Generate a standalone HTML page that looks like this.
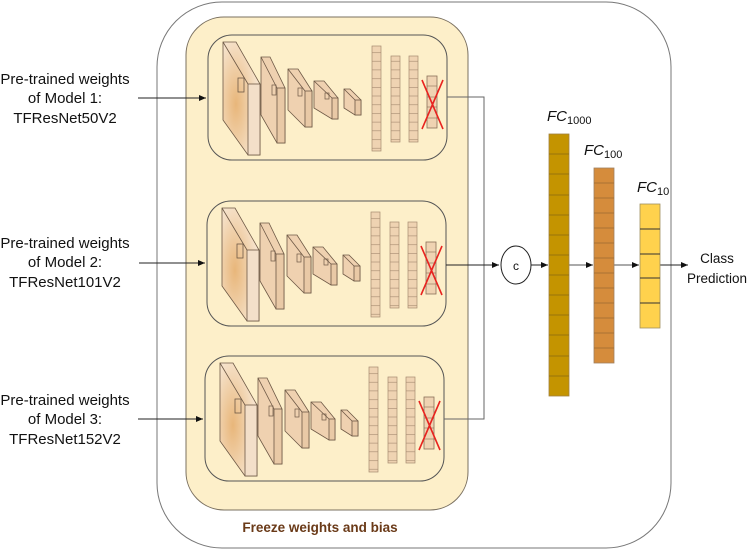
<!DOCTYPE html>
<html><head><meta charset="utf-8"><style>
html,body{margin:0;padding:0;background:#fff;}
svg{display:block;}
text{font-family:"Liberation Sans",sans-serif;}
</style></head><body>
<svg width="749" height="551" viewBox="0 0 749 551" xmlns="http://www.w3.org/2000/svg">
<defs>
<radialGradient id="g1" cx="0.35" cy="0.55" r="0.6">
<stop offset="0" stop-color="#e8b67a"/><stop offset="1" stop-color="#f6e3cc"/>
</radialGradient>
<marker id="ah" markerWidth="8" markerHeight="8" refX="7" refY="4" orient="auto" markerUnits="userSpaceOnUse">
<path d="M0,1 L7,4 L0,7 z" fill="#111"/>
</marker>
<pattern id="cell" x="0" y="0" width="200" height="8.7" patternUnits="userSpaceOnUse">
<rect width="200" height="8.7" fill="#efd3b2"/>
<line x1="0" y1="0.3" x2="200" y2="0.3" stroke="#a58a70" stroke-width="0.7"/>
</pattern>
<g id="net">
  <rect x="208" y="35" width="239" height="125" rx="24" fill="none" stroke="#555" stroke-width="1"/>
  <polygon points="223,42 236,42 260,84 260,155 248,155 223,120" fill="url(#g1)" stroke="#6d5845" stroke-width="0.8"/>
  <line x1="223" y1="42" x2="248" y2="84" stroke="#6d5845" stroke-width="0.8"/>
  <rect x="248" y="84" width="12" height="71" fill="#f3dfc9" stroke="#6d5845" stroke-width="0.8"/>
  <rect x="238" y="78" width="6" height="14" fill="none" stroke="#6d5845" stroke-width="0.8"/>
  <polygon points="261,57 270,57 285,88 285,143 277,143 261,115" fill="#efd1b0" stroke="#6d5845" stroke-width="0.8"/>
  <line x1="261" y1="57" x2="277" y2="88" stroke="#6d5845" stroke-width="0.8"/>
  <rect x="277" y="88" width="8" height="55" fill="#e9c9a6" stroke="#6d5845" stroke-width="0.8"/>
  <rect x="272" y="85" width="4" height="10" fill="none" stroke="#6d5845" stroke-width="0.7"/>
  <polygon points="288,69 298,69 312,91 312,127 305,127 288,110" fill="#efd1b0" stroke="#6d5845" stroke-width="0.8"/>
  <line x1="288" y1="69" x2="305" y2="91" stroke="#6d5845" stroke-width="0.8"/>
  <rect x="305" y="91" width="7" height="36" fill="#e9c9a6" stroke="#6d5845" stroke-width="0.8"/>
  <rect x="298" y="88" width="4" height="8" fill="none" stroke="#6d5845" stroke-width="0.7"/>
  <polygon points="314,81 324,81 338,98 338,119 332,119 314,108" fill="#efd1b0" stroke="#6d5845" stroke-width="0.8"/>
  <line x1="314" y1="81" x2="332" y2="98" stroke="#6d5845" stroke-width="0.8"/>
  <rect x="332" y="98" width="6" height="21" fill="#e9c9a6" stroke="#6d5845" stroke-width="0.8"/>
  <rect x="325" y="93" width="4" height="6" fill="none" stroke="#6d5845" stroke-width="0.7"/>
  <polygon points="344,89 350,89 361,100 361,115 355,115 344,108" fill="#efd1b0" stroke="#6d5845" stroke-width="0.8"/>
  <line x1="344" y1="89" x2="355" y2="100" stroke="#6d5845" stroke-width="0.8"/>
  <rect x="355" y="100" width="6" height="15" fill="#e9c9a6" stroke="#6d5845" stroke-width="0.8"/>
  <rect x="372" y="46" width="9" height="105" fill="url(#cell)" stroke="#a58a70" stroke-width="0.7"/>
  <rect x="391" y="56" width="9" height="86" fill="url(#cell)" stroke="#a58a70" stroke-width="0.7"/>
  <rect x="409" y="56" width="9" height="86" fill="url(#cell)" stroke="#a58a70" stroke-width="0.7"/>
  <rect x="427" y="76" width="10" height="52" fill="#efd3b2" stroke="#8a7058" stroke-width="0.8"/>
  <line x1="427" y1="86" x2="437" y2="86" stroke="#8a7058" stroke-width="0.6"/>
  <line x1="427" y1="97" x2="437" y2="97" stroke="#8a7058" stroke-width="0.6"/>
  <line x1="427" y1="107" x2="437" y2="107" stroke="#8a7058" stroke-width="0.6"/>
  <line x1="427" y1="118" x2="437" y2="118" stroke="#8a7058" stroke-width="0.6"/>
  <line x1="422" y1="80" x2="443" y2="129" stroke="#e8231f" stroke-width="1.6"/>
  <line x1="443" y1="80" x2="422" y2="129" stroke="#e8231f" stroke-width="1.6"/>
</g>
</defs>

<rect x="157" y="2" width="514" height="546" rx="65" fill="#fff" stroke="#777" stroke-width="1"/>
<rect x="186" y="17" width="282" height="493" rx="38" fill="#fdefc9" stroke="#7a7060" stroke-width="1"/>

<use href="#net"/>
<use href="#net" transform="translate(-1,166)"/>
<use href="#net" transform="translate(-3,321)"/>

<text x="320" y="532" font-size="13.5" font-weight="bold" fill="#6a3a18" text-anchor="middle">Freeze weights and bias</text>

<g font-size="15" fill="#111" text-anchor="middle">
<text x="65" y="84">Pre-trained weights</text>
<text x="65" y="103">of Model 1:</text>
<text x="65" y="123">TFResNet50V2</text>
<text x="65" y="248">Pre-trained weights</text>
<text x="65" y="267">of Model 2:</text>
<text x="65" y="287">TFResNet101V2</text>
<text x="65" y="405">Pre-trained weights</text>
<text x="65" y="424">of Model 3:</text>
<text x="65" y="444">TFResNet152V2</text>
</g>
<g stroke="#222" stroke-width="1" fill="none">
<line x1="138" y1="98" x2="206" y2="98" marker-end="url(#ah)"/>
<line x1="139" y1="263" x2="205" y2="263" marker-end="url(#ah)"/>
<line x1="138" y1="419" x2="203" y2="419" marker-end="url(#ah)"/>
<polyline points="447,97 484,97 484,419 444,419" stroke="#666"/>
<line x1="446" y1="265" x2="499" y2="265" marker-end="url(#ah)"/>
<ellipse cx="516" cy="265" rx="15" ry="19" stroke="#222"/>
<line x1="531" y1="265" x2="548" y2="265" marker-end="url(#ah)"/>
<line x1="569" y1="265" x2="593" y2="265" marker-end="url(#ah)" stroke="#555"/>
<line x1="614" y1="265" x2="639" y2="265" marker-end="url(#ah)" stroke="#555"/>
<line x1="660" y1="265" x2="688" y2="265" marker-end="url(#ah)"/>
</g>
<text x="516" y="270" font-size="12" text-anchor="middle" fill="#111">c</text>

<rect x="549" y="134" width="20" height="262" fill="#c49400" stroke="#a08040" stroke-width="0.8"/>
<g stroke="#8a6a10" stroke-width="0.8">
<line x1="549" y1="154" x2="569" y2="154"/><line x1="549" y1="174" x2="569" y2="174"/><line x1="549" y1="195" x2="569" y2="195"/><line x1="549" y1="215" x2="569" y2="215"/><line x1="549" y1="235" x2="569" y2="235"/><line x1="549" y1="255" x2="569" y2="255"/><line x1="549" y1="275" x2="569" y2="275"/><line x1="549" y1="295" x2="569" y2="295"/><line x1="549" y1="315" x2="569" y2="315"/><line x1="549" y1="335" x2="569" y2="335"/><line x1="549" y1="356" x2="569" y2="356"/><line x1="549" y1="376" x2="569" y2="376"/>
</g>
<rect x="594" y="168" width="20" height="195" fill="#d58c3c" stroke="#a08060" stroke-width="0.8"/>
<g stroke="#9a6a30" stroke-width="0.8">
<line x1="594" y1="183" x2="614" y2="183"/><line x1="594" y1="198" x2="614" y2="198"/><line x1="594" y1="213" x2="614" y2="213"/><line x1="594" y1="228" x2="614" y2="228"/><line x1="594" y1="243" x2="614" y2="243"/><line x1="594" y1="258" x2="614" y2="258"/><line x1="594" y1="273" x2="614" y2="273"/><line x1="594" y1="288" x2="614" y2="288"/><line x1="594" y1="303" x2="614" y2="303"/><line x1="594" y1="318" x2="614" y2="318"/><line x1="594" y1="333" x2="614" y2="333"/><line x1="594" y1="348" x2="614" y2="348"/>
</g>
<rect x="640" y="204" width="20" height="124" fill="#ffd24d" stroke="#a09060" stroke-width="0.8"/>
<g stroke="#333" stroke-width="1">
<line x1="640" y1="229" x2="660" y2="229"/><line x1="640" y1="254" x2="660" y2="254"/><line x1="640" y1="278" x2="660" y2="278"/><line x1="640" y1="303" x2="660" y2="303"/>
</g>

<g font-family="Liberation Serif,serif" font-style="italic" fill="#111">
<text x="547" y="121" font-size="15">FC<tspan font-style="normal" font-size="11" dy="3">1000</tspan></text>
<text x="584" y="155" font-size="15">FC<tspan font-style="normal" font-size="11" dy="3">100</tspan></text>
<text x="637" y="192" font-size="15">FC<tspan font-style="normal" font-size="11" dy="3">10</tspan></text>
</g>
<text x="717" y="263" font-size="13.5" text-anchor="middle" fill="#111">Class</text>
<text x="717" y="283" font-size="13.5" text-anchor="middle" fill="#111">Prediction</text>
</svg>
</body></html>
